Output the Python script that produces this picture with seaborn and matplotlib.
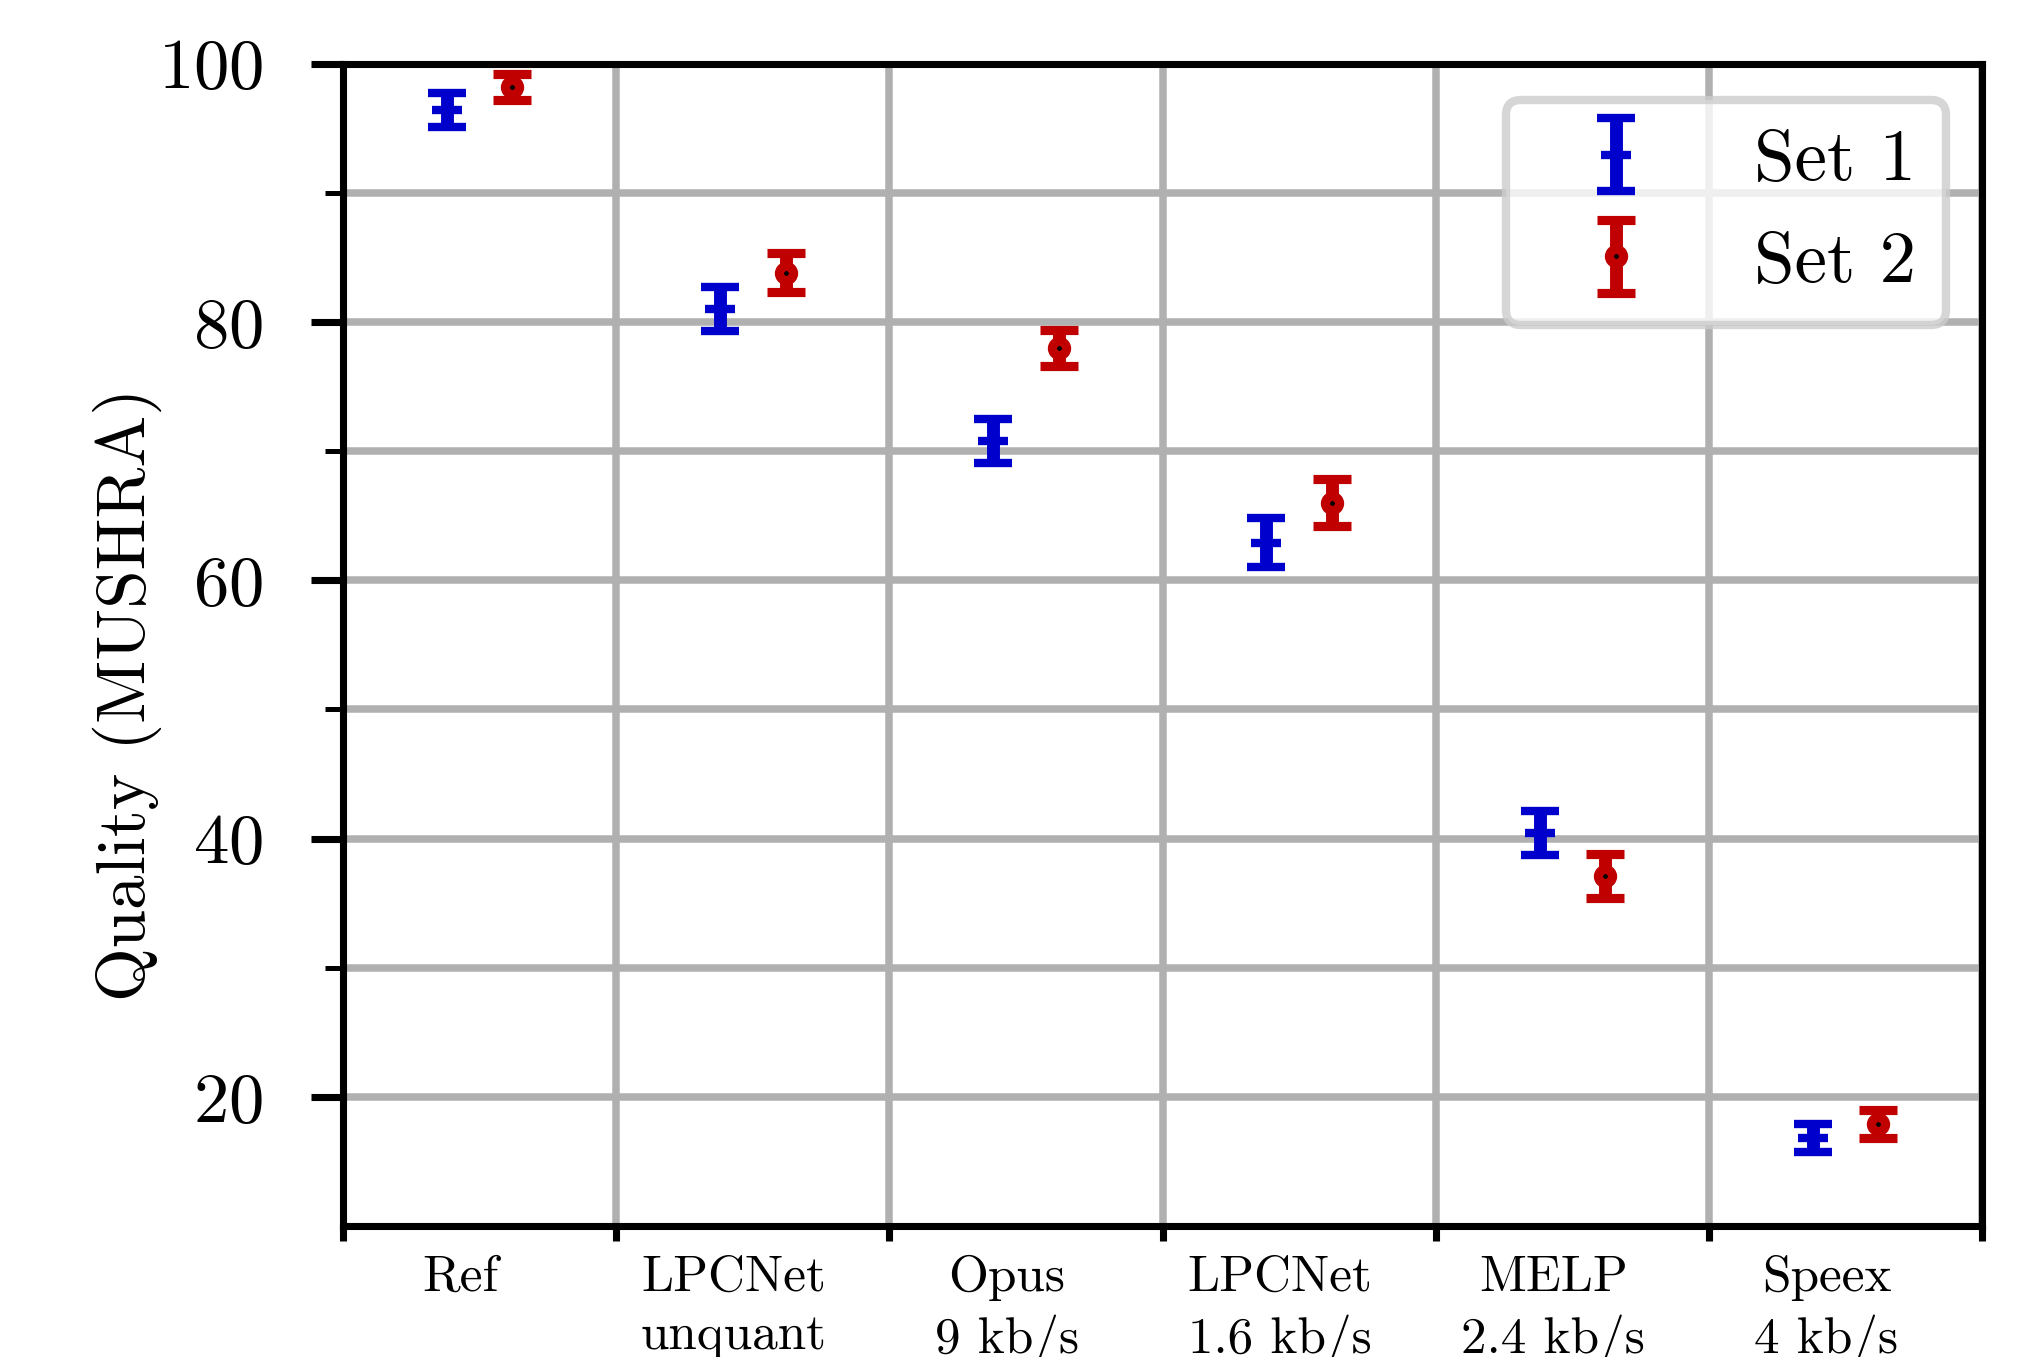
import numpy as np
import matplotlib
matplotlib.use("Agg")
import matplotlib.pyplot as plt
from matplotlib.ticker import MultipleLocator, FixedLocator, FixedFormatter, NullFormatter
import seaborn as sns

# MUSHRA results per codec
codecs = ["Ref", "LPCNet\nunquant", "Opus\n9 kb/s", "LPCNet\n1.6 kb/s", "MELP\n2.4 kb/s", "Speex\n4 kb/s"]
set1_mean = [96.4, 81.0, 70.8, 62.9, 40.4, 16.8]
set1_err = [1.3, 1.7, 1.7, 1.9, 1.7, 1.1]
set2_mean = [98.2, 83.8, 78.0, 66.0, 37.1, 17.9]
set2_err = [1.0, 1.5, 1.4, 1.8, 1.7, 1.1]

sns.set_style("whitegrid", {"grid.color": "#b0b0b0", "axes.edgecolor": "black",
                            "text.color": "black", "axes.labelcolor": "black",
                            "xtick.color": "black", "ytick.color": "black"})
plt.rcParams['font.family'] = ['cmr10', 'DejaVu Serif']
plt.rcParams['mathtext.fontset'] = 'cm'
plt.rcParams['axes.unicode_minus'] = False
plt.rcParams['axes.formatter.use_mathtext'] = True

fig = plt.figure(figsize=(2031 / 300, 1357 / 300), dpi=300)
ax = fig.add_axes([0.1689, 0.0965, 0.9759 - 0.1689, 0.9532 - 0.0965])

idx = np.arange(len(codecs))

ax.errorbar(idx + 0.38, set1_mean, yerr=set1_err, fmt='_', color='#0000cc',
            ms=7, mew=2, elinewidth=3.1, capsize=4.6, capthick=1.9,
            label='Set 1', zorder=3)
ax.errorbar(idx + 0.62, set2_mean, yerr=set2_err, fmt='o', color='#c00000',
            mfc='black', mec='#c00000', ms=3.4, mew=2.2,
            elinewidth=3.1, capsize=4.6, capthick=1.9,
            label='Set 2', zorder=3)

ax.set_xlim(0, len(codecs))
ax.set_ylim(10, 100)

ax.xaxis.set_major_locator(FixedLocator(np.arange(len(codecs) + 1)))
ax.xaxis.set_major_formatter(NullFormatter())
ax.xaxis.set_minor_locator(FixedLocator(idx + 0.43))
ax.xaxis.set_minor_formatter(FixedFormatter(codecs))
ax.yaxis.set_major_locator(MultipleLocator(20))
ax.yaxis.set_minor_locator(FixedLocator(np.arange(30, 100, 20)))

ax.grid(False)
ax.grid(True, which='major', axis='x', color='#b0b0b0', lw=1.8)
ax.grid(True, which='both', axis='y', color='#b0b0b0', lw=1.8)
ax.set_axisbelow(True)

for s in ax.spines.values():
    s.set_visible(True)
    s.set_color('black')
    s.set_linewidth(1.7)

ax.tick_params(axis='y', which='major', left=True, length=7.7, width=1.7,
               labelsize=17, pad=11.5, color='black')
ax.tick_params(axis='y', which='minor', left=True, length=4.3, width=1.2, color='black')
ax.tick_params(axis='x', which='major', bottom=True, length=3.6, width=1.7, color='black')
ax.tick_params(axis='x', which='minor', bottom=True, length=0, labelsize=12.3, pad=7)
for lbl in ax.get_xminorticklabels():
    lbl.set_linespacing(1.35)

ax.set_ylabel('Quality (MUSHRA)', fontsize=16.6, labelpad=-1)
ax.yaxis.label.set_y(0.457)

leg = ax.legend(loc='upper right', fontsize=17.5, frameon=True, fancybox=True,
                framealpha=0.8, edgecolor='0.8', handlelength=2.2)
leg.get_frame().set_linewidth(2)

fig.savefig('out.png', dpi=300)
